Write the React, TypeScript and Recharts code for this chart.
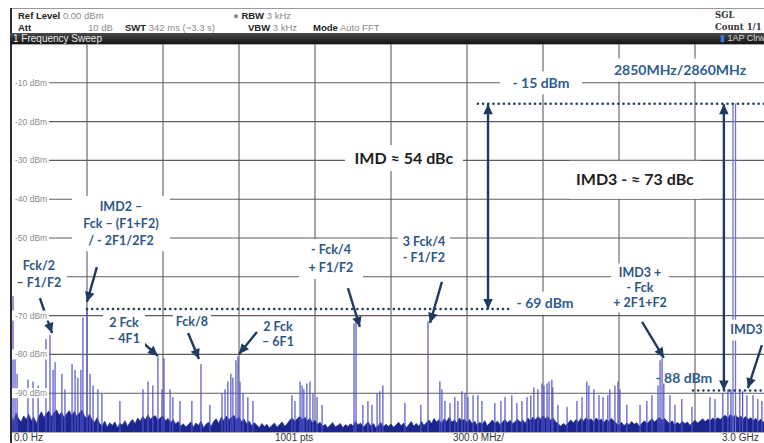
import {
  ComposedChart,
  Area,
  Bar,
  XAxis,
  YAxis,
  CartesianGrid,
  ReferenceLine,
  ReferenceDot,
} from "recharts";

// span 0 Hz .. 3 GHz, 300 MHz/div, ref level 0 dBm, 10 dB/div
const freqTicks = [0, 300, 600, 900, 1200, 1500, 1800, 2100, 2400, 2700, 3000];
const levelTicks = [-100, -90, -80, -70, -60, -50, -40, -30, -20, -10, 0];

// noise floor, one reading every 10 MHz (dBm)
const noiseStepMHz = 10;
const noiseFloor = [
  -95.8, -97.2, -95.1, -96.6, -97.4, -95.9, -96.8, -95.4, -97.1, -96.2, -97.8, -96.0, -94.8, -96.3, -95.2, -94.6, -96.1, -95.0, -94.3, -95.7,
  -94.9, -96.4, -95.3, -94.5, -95.8, -94.7, -96.0, -95.1, -94.4, -95.9, -96.6, -95.4, -96.9, -97.5, -96.3, -97.9, -98.4, -97.2, -98.8, -97.6,
  -98.3, -97.4, -98.9, -97.8, -98.2, -97.1, -98.6, -97.5, -96.8, -97.9, -96.4, -97.2, -96.0, -96.9, -95.6, -96.7, -96.1, -95.8, -97.0, -96.3,
  -95.9, -97.1, -96.5, -97.6, -96.8, -98.0, -97.3, -98.5, -97.9, -98.7, -98.1, -97.4, -98.8, -97.7, -98.3, -97.2, -98.9, -98.0, -97.5, -98.6,
  -97.3, -96.6, -97.8, -96.2, -97.1, -95.9, -96.8, -96.3, -95.7, -96.9, -96.1, -97.4, -96.7, -97.9, -97.2, -98.4, -97.6, -98.2, -98.9, -97.8,
  -98.6, -98.0, -99.0, -98.3, -97.7, -98.8, -98.1, -97.4, -98.5, -97.9, -97.0, -96.4, -97.3, -96.6, -96.0, -96.9, -96.2, -97.1, -96.5, -97.6,
  -97.0, -98.1, -97.5, -98.6, -98.0, -98.9, -98.2, -97.6, -98.7, -98.3, -97.8, -98.9, -98.1, -98.6, -97.9, -98.4, -97.3, -98.2, -97.7, -98.8,
  -98.1, -97.4, -98.5, -97.8, -98.9, -98.3, -97.6, -98.7, -98.0, -98.6, -97.9, -98.8, -98.2, -97.5, -98.4, -97.7, -98.9, -98.1, -97.3, -98.5,
  -97.8, -98.6, -97.2, -98.3, -97.6, -96.9, -97.8, -96.5, -97.4, -96.8, -97.9, -96.6, -97.3, -96.2, -97.5, -96.9, -97.7, -96.4, -97.1, -96.7,
  -97.6, -96.8, -97.9, -97.2, -98.3, -97.5, -98.0, -97.1, -98.4, -97.7, -96.9, -97.8, -97.2, -98.1, -97.4, -96.8, -97.6, -97.0, -97.9, -97.3,
  -96.7, -97.5, -96.9, -97.8, -96.4, -97.1, -96.2, -96.9, -96.0, -96.7, -95.8, -96.6, -96.1, -97.0, -96.4, -97.4, -97.9, -98.5, -97.8, -98.3,
  -97.6, -96.9, -97.7, -96.8, -97.4, -96.5, -97.2, -96.3, -97.0, -96.6, -97.5, -96.4, -97.1, -96.7, -97.6, -96.8, -97.3, -96.5, -97.2, -97.8,
  -98.2, -97.5, -98.4, -97.7, -98.1, -97.3, -98.0, -97.6, -98.5, -97.8, -97.1, -97.9, -97.2, -96.6, -97.4, -96.8, -96.3, -97.0, -96.5, -97.3,
  -97.8, -97.1, -98.2, -97.5, -98.0, -97.2, -97.9, -97.4, -98.3, -97.6, -97.0, -97.7, -97.2, -96.6, -97.3, -96.7, -97.1, -96.4, -96.9, -96.3,
  -96.8, -96.1, -95.7, -96.5, -95.4, -96.2, -95.6, -96.4, -95.9, -96.7, -96.0, -96.8, -96.3, -97.1, -96.5, -97.3, -96.7, -97.5, -96.9, -97.2,
  -97.0,
];

// spurious products (MHz, dBm)
const spurFreqs = [
  8, 16, 24, 67, 87, 107, 138, 154, 166, 174, 201, 213, 241, 253, 264, 276, 284, 300, 312, 324, 343, 359,
  430, 521, 541, 560, 580, 596, 604, 628, 639, 667, 714, 750, 785, 833, 845, 856, 868, 876, 888, 896, 904,
  916, 935, 955, 1109, 1121, 1141, 1149, 1156, 1168, 1180, 1192, 1208, 1228, 1354, 1362, 1389, 1409, 1425,
  1445, 1456, 1468, 1555, 1618, 1646, 1693, 1701, 1713, 1733, 1752, 1764, 1780, 1792, 1804, 1824, 1843,
  1859, 1910, 1934, 1950, 1977, 1997, 2017, 2037, 2052, 2064, 2080, 2096, 2104, 2116, 2124, 2135, 2139,
  2159, 2195, 2234, 2254, 2273, 2281, 2301, 2321, 2337, 2356, 2364, 2384, 2396, 2404, 2431, 2483, 2510,
  2530, 2554, 2562, 2570, 2577, 2601, 2621, 2648, 2688, 2759, 2779, 2810, 2830, 2842, 2877, 2888, 2905,
  2929, 2948, 2964,
];
const spurLevels = [
  -65, -81, -85, -86.5, -87, -88, -76, -75, -84, -82, -85, -89, -82.5, -84, -86, -84, -70.5, -68.3, -85, -88, -89, -90,
  -92, -89, -87, -88, -80.5, -89, -81, -89, -91, -92, -92, -82.5, -93, -90, -89, -87, -85, -86, -81.5, -80.5, -87,
  -90, -91, -92, -90.5, -92, -87, -88, -89, -87.5, -87, -90, -91, -93, -72, -71.5, -93, -92, -93,
  -90, -89.5, -88, -92.5, -93, -71.5, -87, -89, -92, -92.5, -91, -92, -89.5, -90, -91, -90.5, -90.5,
  -92, -92.5, -92, -91, -90.5, -92.5, -92, -91, -90.5, -88.5, -89, -87.5, -88, -87.5, -87, -86.5, -88.5,
  -93, -93.5, -92, -91, -87, -88, -89, -90.5, -91, -90.5, -89, -88, -87, -89, -93, -93, -92,
  -90.5, -88, -81.5, -81, -87.5, -90.5, -93, -91.5, -93.5, -91, -91.5, -90, -89, -89, -89, -89.5, -90.5,
  -90.5, -91.5, -92,
];

// the two test tones F1 / F2
const toneFreqs = [2850, 2860];
const toneLevels = [-15.3, -15.3];

type Row = { f: number; noise?: number; spur?: number; tone?: boolean };
const rows: Row[] = [
  ...noiseFloor.map((v, i) => ({ f: i * noiseStepMHz, noise: v })),
  ...spurFreqs.map((f, i) => ({ f, spur: spurLevels[i] })),
  ...toneFreqs.map((f, i) => ({ f, spur: toneLevels[i], tone: true })),
].sort((a, b) => a.f - b.f);

// annotations, anchored in MHz / dBm
const NAVY = "#1f3b63";
const LABEL = "#2d5684";

type Note = { f: number; d: number; lines: string[]; size: number; w: number; color: string; lh?: number };
const notes: Note[] = [
  { f: 110, d: -59.3, lines: ["Fck/2", "– F1/F2"], size: 12.5, w: 56, color: LABEL },
  { f: 434, d: -46.3, lines: ["IMD2 –", "Fck – (F1+F2)", "/ - 2F1/2F2"], size: 12.5, w: 98, color: LABEL },
  { f: 446, d: -74, lines: ["2 Fck", "– 4F1"], size: 12.5, w: 42, color: LABEL, lh: 16 },
  { f: 714, d: -71.6, lines: ["Fck/8"], size: 12.5, w: 38, color: LABEL },
  { f: 1054, d: -74.7, lines: ["2 Fck", "– 6F1"], size: 12.5, w: 40, color: LABEL, lh: 15 },
  { f: 1263, d: -55.4, lines: ["- Fck/4", "+ F1/F2"], size: 12.5, w: 64, color: LABEL, lh: 18 },
  { f: 1630, d: -53.1, lines: ["3 Fck/4", "- F1/F2"], size: 12.5, w: 52, color: LABEL, lh: 16 },
  { f: 1551, d: -29.4, lines: ["IMD ≈ 54 dBc"], size: 16, w: 118, color: "#1d1d1d" },
  { f: 2463, d: -35, lines: ["IMD3 - ≈ 73 dBc"], size: 16, w: 130, color: "#1d1d1d", lh: 34 },
  { f: 2092, d: -10, lines: ["- 15 dBm"], size: 14, w: 82, color: "#2e5d8e" },
  { f: 2641, d: -6.7, lines: ["2850MHz/2860MHz"], size: 14, w: 140, color: "#2e5d8e" },
  { f: 2108, d: -66.8, lines: ["- 69 dBm"], size: 14, w: 64, color: "#2e5d8e" },
  { f: 2483, d: -62.9, lines: ["IMD3 +", "- Fck", "+ 2F1+F2"], size: 12.5, w: 58, color: LABEL, lh: 15 },
  { f: 2656, d: -86.1, lines: ["- 88 dBm"], size: 14, w: 0, color: "#2e5d8e" },
  { f: 2903, d: -73.7, lines: ["IMD3"], size: 12.5, w: 36, color: LABEL },
];

// [f1, d1, f2, d2, double-headed]
const arrows: [number, number, number, number, boolean][] = [
  [114, -65.5, 162, -74.5, false],
  [339, -57.5, 300, -66.5, false],
  [521, -77, 580, -80.4, false],
  [699, -74.5, 742, -81.2, false],
  [971, -74.2, 900, -79.9, false],
  [1330, -62.9, 1377, -72.9, false],
  [1701, -61.3, 1654, -71.9, false],
  [2491, -71.6, 2577, -80.9, false],
  [2964, -77.6, 2909, -88.7, false],
  [1883, -15.5, 1883, -68.3, true],
  [2814, -15.5, 2814, -89.3, true],
];

// dotted level markers [f1, f2, dBm]
const levels: [number, number, number][] = [
  [1843, 3000, -15.4],
  [300, 1977, -68.3],
  [2692, 3000, -89.3],
];

const M = { top: 44, right: 9, bottom: 11, left: 11 };

function head(x: number, y: number, a: number) {
  const L = 10;
  const w = 4.8;
  const bx = x - L * Math.cos(a);
  const by = y - L * Math.sin(a);
  const nx = -Math.sin(a) * w;
  const ny = Math.cos(a) * w;
  return `${x},${y} ${bx + nx},${by + ny} ${bx - nx},${by - ny}`;
}

function arrowShape(both: boolean) {
  return (p: any) => {
    const { x1, y1, x2, y2 } = p;
    const a = Math.atan2(y2 - y1, x2 - x1);
    return (
      <g>
        <line x1={x1} y1={y1} x2={x2} y2={y2} stroke={NAVY} strokeWidth={2.4} />
        <polygon points={head(x2, y2, a)} fill={NAVY} />
        {both && <polygon points={head(x1, y1, a + Math.PI)} fill={NAVY} />}
      </g>
    );
  };
}

function noteShape(n: Note) {
  return (p: any) => {
    const { cx, cy } = p;
    const lh = n.lh ?? Math.round(n.size * 1.35);
    const h = n.lines.length * lh + 4;
    const top = cy - h / 2;
    return (
      <g>
        {n.w > 0 && <rect x={cx - n.w / 2} y={top} width={n.w} height={h} fill="#fff" />}
        {n.lines.map((t, i) => (
          <text
            key={i}
            x={cx}
            y={top + 2 + lh * (i + 0.5)}
            dy="0.35em"
            textAnchor="middle"
            fontFamily="Lato, 'Open Sans', sans-serif"
            fontWeight={700}
            fontSize={n.size}
            fill={n.color}
          >
            {t}
          </text>
        ))}
      </g>
    );
  };
}

// spectrum lines: keep a fixed trace width whatever band size Recharts picks
function SpurLine(p: any) {
  if (p.payload?.spur == null || !isFinite(p.y) || !isFinite(p.height)) return <g />;
  const cx = p.x + (p.width || 0) / 2;
  const w = p.payload.tone ? 1.3 : 1.2;
  const y = Math.min(p.y, p.y + p.height);
  return (
    <rect
      x={cx - w / 2}
      y={y}
      width={w}
      height={Math.abs(p.height)}
      fill={p.payload.tone ? "#6f6fe0" : "#5252cf"}
    />
  );
}

function LevelTick(p: any) {
  const v = p.payload?.value;
  if (v === 0 || v === -100 || v === -60) return <g />;
  return (
    <g>
      <rect x={M.left + 1} y={p.y - 5} width={37} height={10} fill="#fff" />
      <text x={M.left + 4} y={p.y} dy={3} fontSize={8.5} fill="#8c8c8c" fontFamily="'Liberation Sans', Arial, sans-serif">
        {v} dBm
      </text>
    </g>
  );
}

const hdr: React.CSSProperties = {
  position: "absolute",
  fontFamily: "'Liberation Sans', Arial, sans-serif",
  fontSize: 9.5,
  lineHeight: "11px",
  whiteSpace: "nowrap",
};
const b: React.CSSProperties = { fontWeight: 700, color: "#222" };
const g: React.CSSProperties = { color: "#8a8a8a" };

export default function App() {
  return (
    <div
      style={{
        position: "absolute",
        left: 0,
        top: 0,
        width: 764,
        height: 443,
        overflow: "hidden",
        background: "#fff",
      }}
    >
      <ComposedChart width={780} height={443} data={rows} margin={M}>
        <CartesianGrid stroke="#5e5e5e" strokeWidth={1.1} />
        <XAxis
          type="number"
          dataKey="f"
          domain={[0, 3000]}
          ticks={freqTicks}
          allowDataOverflow
          height={0}
          axisLine={false}
          tickLine={false}
          tick={() => <g />}
        />
        <YAxis
          type="number"
          domain={[-100, 0]}
          ticks={levelTicks}
          allowDataOverflow
          mirror
          width={40}
          axisLine={false}
          tickLine={false}
          tick={LevelTick}
        />
        <Area
          dataKey="noise"
          type="linear"
          connectNulls
          baseValue="dataMin"
          stroke="#25309c"
          strokeWidth={0.8}
          fill="#1b258c"
          fillOpacity={1}
          isAnimationActive={false}
        />
        <Bar
          dataKey={(r: Row) => (r.spur == null ? null : [-100, r.spur])}
          barSize={1.2}
          shape={SpurLine}
          isAnimationActive={false}
        />
        {levels.map(([f1, f2, d], i) => (
          <ReferenceLine
            key={"lv" + i}
            segment={[
              { x: f1, y: d },
              { x: f2, y: d },
            ]}
            stroke={NAVY}
            strokeWidth={2.6}
            strokeDasharray="0 5.2"
            strokeLinecap="round"
          />
        ))}
        {arrows.map(([f1, d1, f2, d2, both], i) => (
          <ReferenceLine
            key={"ar" + i}
            segment={[
              { x: f1, y: d1 },
              { x: f2, y: d2 },
            ]}
            shape={arrowShape(both)}
          />
        ))}
        {notes.map((n, i) => (
          <ReferenceDot key={"nt" + i} x={n.f} y={n.d} r={1} shape={noteShape(n)} />
        ))}
      </ComposedChart>

      {/* instrument header */}
      <div style={{ position: "absolute", left: 10, top: 8, width: 760, height: 25, borderTop: "1px solid #9a9a9a", background: "#fff" }} />
      <div style={{ position: "absolute", left: 10, top: 8, width: 2, height: 435, background: "#2b2b3a" }} />
      <div style={{ ...hdr, left: 18, top: 10 }}>
        <span style={b}>Ref Level</span> <span style={g}>0.00 dBm</span>
      </div>
      <div style={{ ...hdr, left: 18, top: 22 }}>
        <span style={b}>Att</span>
      </div>
      <div style={{ ...hdr, left: 88, top: 22, ...g }}>10 dB</div>
      <div style={{ ...hdr, left: 125, top: 22 }}>
        <span style={b}>SWT</span> <span style={g}>342 ms (~3.3 s)</span>
      </div>
      <div style={{ ...hdr, left: 233, top: 10 }}>
        <span style={g}>●</span> <span style={b}>RBW</span> <span style={g}>3 kHz</span>
      </div>
      <div style={{ ...hdr, left: 248, top: 22 }}>
        <span style={b}>VBW</span> <span style={g}>3 kHz</span>
      </div>
      <div style={{ ...hdr, left: 313, top: 22 }}>
        <span style={b}>Mode</span> <span style={g}>Auto FFT</span>
      </div>
      <div style={{ ...hdr, left: 715, top: 10, fontFamily: "'DejaVu Serif', serif", fontSize: 8.5, fontWeight: 700, color: "#333" }}>SGL</div>
      <div style={{ ...hdr, left: 715, top: 22, fontFamily: "'DejaVu Serif', serif", fontSize: 8.5, fontWeight: 700, color: "#333" }}>Count 1/1</div>

      {/* window title bar */}
      <div
        style={{
          position: "absolute",
          left: 10,
          top: 33,
          width: 760,
          height: 11,
          background: "linear-gradient(#4a4a4a, #141414)",
        }}
      />
      <div style={{ ...hdr, left: 13, top: 33, color: "#e8e8e8", fontSize: 10, lineHeight: "11px" }}>1 Frequency Sweep</div>
      <div style={{ ...hdr, left: 720, top: 33, color: "#d8d8d8", fontSize: 9, lineHeight: "11px" }}>
        <span style={{ color: "#3d7bd8" }}>▮</span> 1AP Clrw
      </div>

      {/* footer */}
      <div style={{ ...hdr, left: 14, top: 432, fontSize: 10, color: "#333" }}>0.0 Hz</div>
      <div style={{ ...hdr, left: 275, top: 432, fontSize: 10, color: "#333" }}>1001 pts</div>
      <div style={{ ...hdr, left: 453, top: 432, fontSize: 10, color: "#333" }}>300.0 MHz/</div>
      <div style={{ ...hdr, left: 722, top: 432, fontSize: 10, color: "#333" }}>3.0 GHz</div>
    </div>
  );
}
